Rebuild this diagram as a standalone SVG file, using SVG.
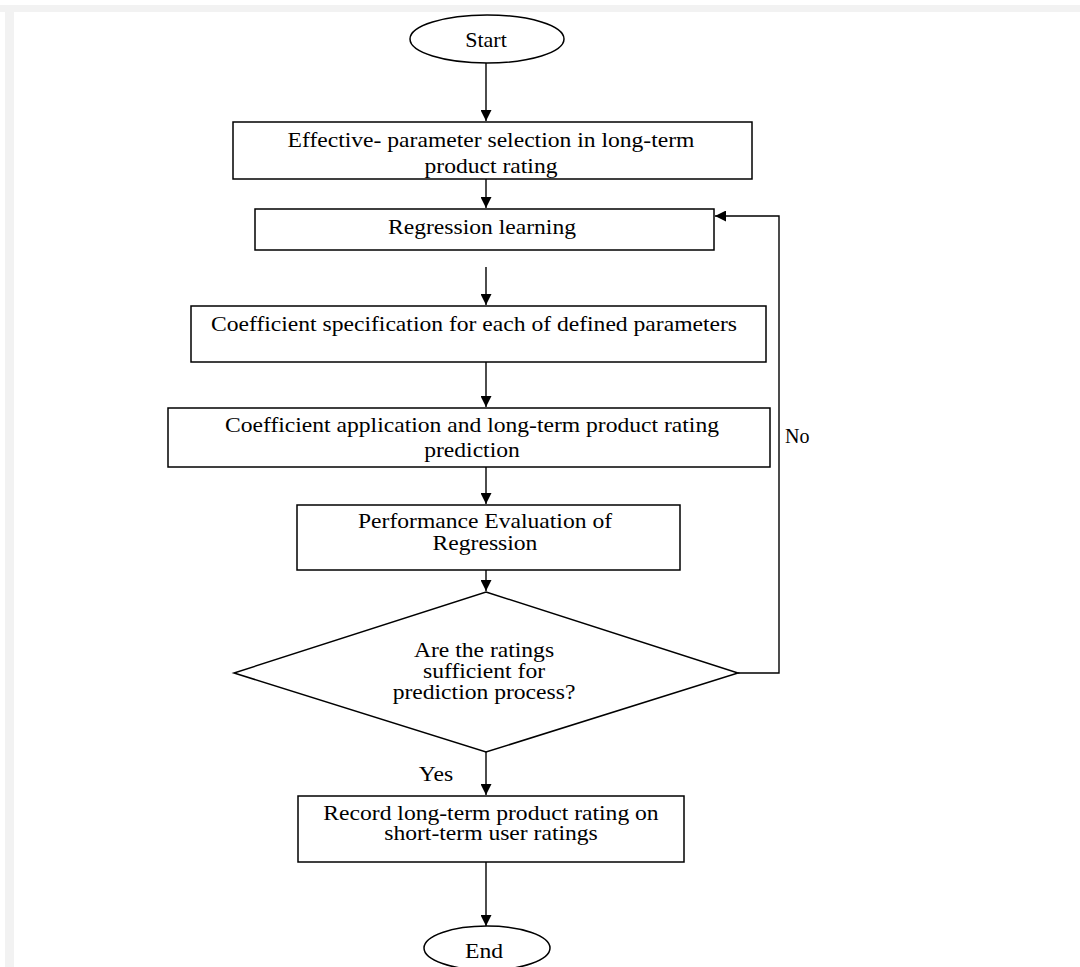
<svg xmlns="http://www.w3.org/2000/svg" width="1080" height="967" viewBox="0 0 1080 967">
<defs>
<style>
.bg{fill:#ffffff}
.band{fill:#f2f2f2}
.shape{fill:#ffffff;stroke:#000000;stroke-width:1.5}
.t{font-family:"Liberation Serif","Times New Roman",serif;font-size:20px;fill:#000000;text-anchor:middle}
.lbl{font-family:"Liberation Serif","Times New Roman",serif;font-size:20px;fill:#000000}
.c{fill:none;stroke:#000000;stroke-width:1.4}
</style>
<marker id="ah" markerWidth="11" markerHeight="11" refX="10" refY="5" orient="auto" markerUnits="userSpaceOnUse" viewBox="0 0 10 10">
<path d="M0,0 L10,5 L0,10 z" fill="#000000"/>
</marker>
<clipPath id="clip1"><rect x="233" y="122" width="519" height="56"/></clipPath>
</defs>
<rect class="bg" x="0" y="0" width="1080" height="967"/>
<rect class="band" x="0" y="5" width="1080" height="7"/>
<rect class="band" x="5" y="5" width="9" height="962"/>

<g id="connectors">
<line class="c" x1="486" y1="63" x2="486" y2="121" marker-end="url(#ah)"/>
<line class="c" x1="486" y1="179" x2="486" y2="208" marker-end="url(#ah)"/>
<line class="c" x1="486" y1="267" x2="486" y2="305" marker-end="url(#ah)"/>
<line class="c" x1="486" y1="362" x2="486" y2="407" marker-end="url(#ah)"/>
<line class="c" x1="486" y1="467" x2="486" y2="504" marker-end="url(#ah)"/>
<line class="c" x1="486" y1="570" x2="486" y2="591" marker-end="url(#ah)"/>
<line class="c" x1="486" y1="752" x2="486" y2="795" marker-end="url(#ah)"/>
<line class="c" x1="486" y1="862" x2="486" y2="926" marker-end="url(#ah)"/>
<polyline class="c" points="738,673 779,673 779,216 715,216" marker-end="url(#ah)"/>
<text class="lbl" x="785" y="443">No</text>
<text class="t" transform="matrix(1.18 0 0 1 436 0)" x="0" y="781">Yes</text>
</g>

<g id="start">
<ellipse class="shape" cx="487" cy="39" rx="77" ry="24"/>
<text class="t" style="font-size:22px" x="486" y="47">Start</text>
</g>

<g id="param-selection">
<rect class="shape" x="233" y="122" width="519" height="57"/>
<g clip-path="url(#clip1)">
<text class="t" transform="matrix(1.18 0 0 1 491 0)" x="0" y="147">Effective- parameter selection in long-term</text>
<text class="t" transform="matrix(1.18 0 0 1 491 0)" x="0" y="173">product rating</text>
</g>
</g>

<g id="regression-learning">
<rect class="shape" x="255" y="209" width="459" height="41"/>
<text class="t" transform="matrix(1.18 0 0 1 482 0)" x="0" y="234">Regression learning</text>
</g>

<g id="coef-spec">
<rect class="shape" x="191" y="306" width="575" height="56"/>
<text class="t" transform="matrix(1.18 0 0 1 474 0)" x="0" y="331">Coefficient specification for each of defined parameters</text>
</g>

<g id="coef-app">
<rect class="shape" x="168" y="408" width="602" height="59"/>
<text class="t" transform="matrix(1.18 0 0 1 472 0)" x="0" y="432">Coefficient application and long-term product rating</text>
<text class="t" transform="matrix(1.18 0 0 1 472 0)" x="0" y="457">prediction</text>
</g>

<g id="perf-eval">
<rect class="shape" x="297" y="505" width="383" height="65"/>
<text class="t" transform="matrix(1.18 0 0 1 485 0)" x="0" y="528">Performance Evaluation of</text>
<text class="t" transform="matrix(1.18 0 0 1 485 0)" x="0" y="550">Regression</text>
</g>

<g id="decision">
<polygon class="shape" points="486,592 738,673 486,752 234,673"/>
<text class="t" transform="matrix(1.18 0 0 1 484 0)" x="0" y="657">Are the ratings</text>
<text class="t" transform="matrix(1.18 0 0 1 484 0)" x="0" y="678">sufficient for</text>
<text class="t" transform="matrix(1.18 0 0 1 484 0)" x="0" y="699">prediction process?</text>
</g>

<g id="record">
<rect class="shape" x="298" y="796" width="386" height="66"/>
<text class="t" transform="matrix(1.18 0 0 1 491 0)" x="0" y="820">Record long-term product rating on</text>
<text class="t" transform="matrix(1.18 0 0 1 491 0)" x="0" y="840">short-term user ratings</text>
</g>

<g id="end">
<ellipse class="shape" cx="487" cy="948" rx="63" ry="22"/>
<text class="t" transform="matrix(1.18 0 0 1 484 0)" x="0" y="958">End</text>
</g>
</svg>
